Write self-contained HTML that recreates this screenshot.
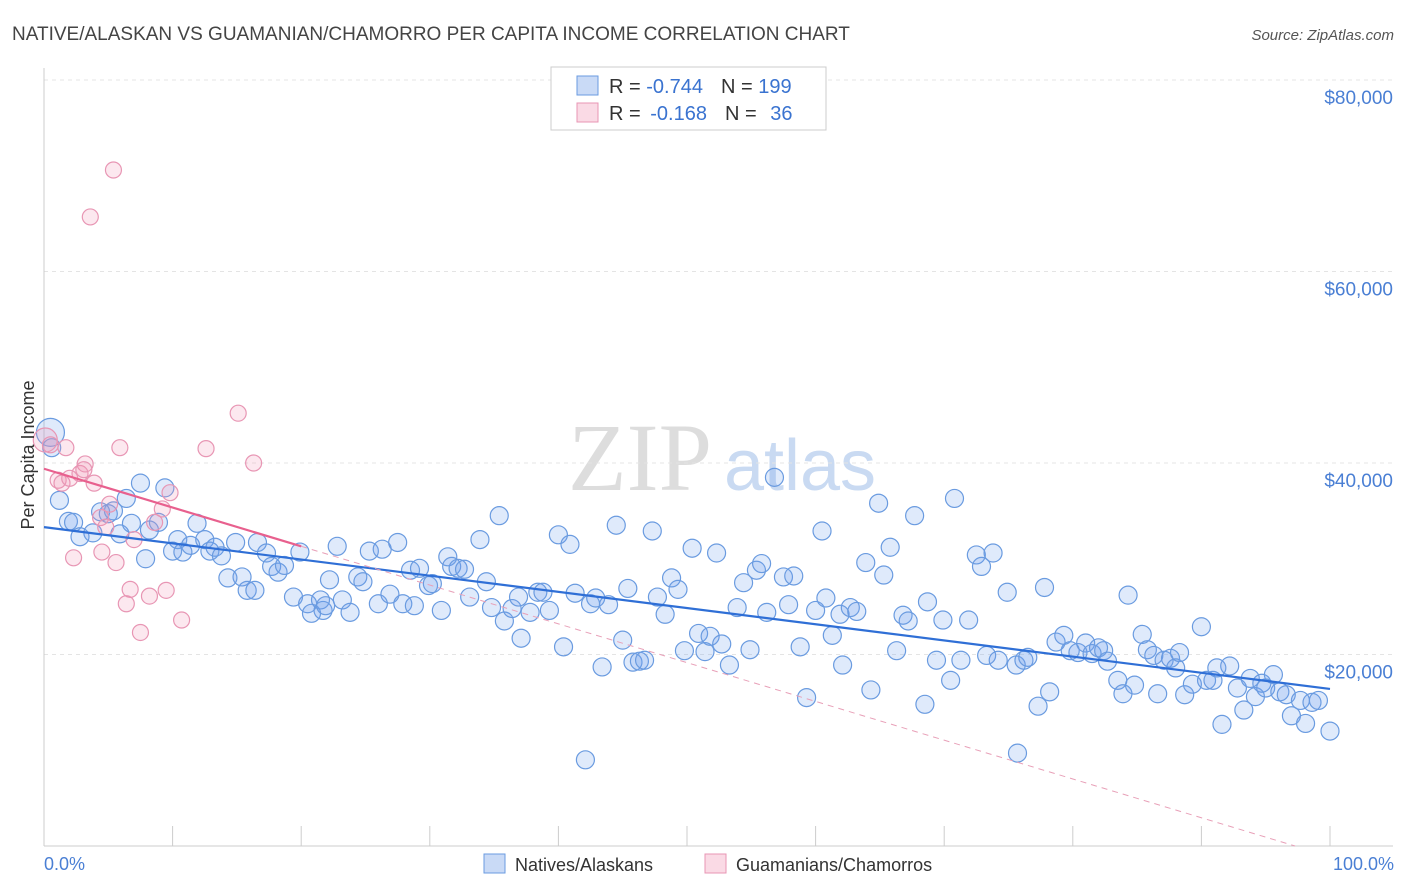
<!DOCTYPE html>
<html><head><meta charset="utf-8">
<style>
body{margin:0;background:#fff;font-family:"Liberation Sans",sans-serif;}
#wrap{position:relative;width:1406px;height:892px;overflow:hidden;}
</style></head>
<body>
<div id="wrap">
<svg id="chart" width="1406" height="892" xmlns="http://www.w3.org/2000/svg">
<text x="12" y="40" font-size="19" fill="#444">NATIVE/ALASKAN VS GUAMANIAN/CHAMORRO PER CAPITA INCOME CORRELATION CHART</text>
<text x="1394" y="40" font-size="15" fill="#555" font-style="italic" text-anchor="end">Source: ZipAtlas.com</text>
<text x="640" y="490" font-size="96" fill="#ddd" font-family="Liberation Serif,serif" text-anchor="middle">ZIP</text>
<text x="800" y="490" font-size="72" fill="#c9daf2" text-anchor="middle">atlas</text>
<g id="grid"></g>
<g id="axes"></g>
<g id="marks"></g>
<text transform="translate(34,455) rotate(-90)" font-size="18" fill="#333" text-anchor="middle">Per Capita Income</text>
<text x="44" y="870" font-size="18" fill="#4a7fd4">0.0%</text>
<text x="1394" y="870" font-size="18" fill="#4a7fd4" text-anchor="end">100.0%</text>
<g>
<rect x="551" y="67" width="275" height="63" fill="#fff" stroke="#ccc"/>
<rect x="577" y="76" width="21" height="19" fill="rgba(100,150,230,0.35)" stroke="#6a9be0"/>
<rect x="577" y="103" width="21" height="19" fill="rgba(240,150,180,0.35)" stroke="#e896b4"/>
<text x="609" y="93" font-size="20" fill="#333">R = <tspan fill="#3a73d0">-0.744</tspan><tspan dx="18">N = </tspan><tspan fill="#3a73d0">199</tspan></text>
<text x="609" y="120" font-size="20" fill="#333">R = <tspan fill="#3a73d0" dx="4">-0.168</tspan><tspan dx="18">N = </tspan><tspan fill="#3a73d0" dx="8">36</tspan></text>
</g>
<g>
<rect x="484" y="854" width="21" height="19" fill="rgba(100,150,230,0.35)" stroke="#6a9be0"/>
<text x="515" y="871" font-size="18" fill="#333">Natives/Alaskans</text>
<rect x="705" y="854" width="21" height="19" fill="rgba(240,150,180,0.35)" stroke="#e896b4"/>
<text x="736" y="871" font-size="18" fill="#333">Guamanians/Chamorros</text>
</g>
</svg>
</div>
<script>
const yTicks=[20,40,60,80];
const yTickLabels=["$20,000","$40,000","$60,000","$80,000"];
const xTicks=[0,10,20,30,40,50,60,70,80,90,100];
const blueX=[0.5,0.6,1.2,1.9,2.3,2.8,3.8,4.4,5.0,5.4,5.9,6.4,6.8,7.5,7.9,8.2,8.9,9.4,10.0,10.4,10.8,11.4,11.9,12.5,12.9,13.3,13.8,14.3,14.9,15.4,15.8,16.4,16.6,17.3,17.7,18.2,18.7,19.4,19.9,20.5,20.8,21.5,21.7,21.9,22.8,22.2,23.2,23.8,24.4,24.8,25.3,26.0,26.3,26.9,27.5,27.9,28.5,28.8,29.2,29.9,30.2,30.9,31.4,31.7,32.2,32.7,33.1,33.9,34.4,34.8,35.4,35.8,36.4,36.9,37.1,37.8,38.4,38.8,39.3,40.0,40.4,40.9,41.3,42.5,42.9,43.4,43.9,44.5,45.0,45.4,45.8,46.3,46.7,47.3,47.7,48.3,48.8,49.3,49.8,50.4,50.9,51.4,51.8,52.3,52.7,53.3,53.9,54.4,54.9,55.4,55.8,56.2,56.8,57.5,57.9,58.3,58.8,59.3,60.0,60.5,60.8,61.3,61.9,62.1,62.7,63.2,63.9,64.3,64.9,65.3,65.8,66.3,66.8,67.2,67.7,68.5,68.7,69.4,69.9,70.5,70.8,71.3,71.9,72.5,72.9,73.3,73.8,74.2,74.9,75.6,75.7,76.2,76.5,77.3,77.8,78.2,78.7,79.3,79.8,80.4,81.0,81.5,82.0,82.4,82.7,83.5,83.9,84.3,84.8,85.4,85.8,86.3,86.6,87.1,87.6,88.0,88.3,88.7,89.3,90.0,90.4,90.9,91.2,91.6,92.2,92.8,93.3,93.8,94.2,94.7,95.0,95.6,96.1,96.6,97.0,97.7,98.1,98.6,99.1,100.0,42.1];
const blueY=[43.2,41.6,36.1,33.9,33.8,32.3,32.7,34.9,34.7,35.0,32.6,36.3,33.7,37.9,30.0,33.0,33.8,37.4,30.8,32.0,30.7,31.4,33.7,32.0,30.8,31.2,30.3,28.0,31.7,28.1,26.7,26.7,31.7,30.6,29.2,28.6,29.3,26.0,30.7,25.3,24.3,25.7,24.6,25.1,31.3,27.8,25.7,24.4,28.1,27.6,30.8,25.3,31.0,26.3,31.7,25.3,28.8,25.1,29.0,27.2,27.4,24.6,30.2,29.2,29.0,28.9,26.0,32.0,27.6,24.9,34.5,23.5,24.8,26.0,21.7,24.4,26.5,26.5,24.6,32.5,20.8,31.5,26.4,25.3,25.9,18.7,25.2,33.5,21.5,26.9,19.2,19.3,19.4,32.9,26.0,24.2,28.0,26.8,20.4,31.1,22.2,20.3,21.9,30.6,21.1,18.9,24.9,27.5,20.5,28.8,29.5,24.4,38.5,28.1,25.2,28.2,20.8,15.5,24.6,32.9,25.9,22.0,24.2,18.9,24.9,24.5,29.6,16.3,35.8,28.3,31.2,20.4,24.1,23.5,34.5,14.8,25.5,19.4,23.6,17.3,36.3,19.4,23.6,30.4,29.2,19.9,30.6,19.4,26.5,18.9,9.7,19.4,19.7,14.6,27.0,16.1,21.3,22.0,20.4,20.2,21.2,20.1,20.7,20.4,19.3,17.3,15.9,26.2,16.8,22.1,20.5,19.9,15.9,19.4,19.6,18.6,20.2,15.8,16.9,22.9,17.3,17.3,18.6,12.7,18.8,16.5,14.2,17.5,15.6,17.0,16.5,17.9,16.1,15.8,13.6,15.2,12.8,15.0,15.2,12.0,9.0];
const pinkX=[0.1,0.5,1.1,1.4,1.7,2.0,2.3,2.8,3.2,3.6,3.9,4.4,4.5,4.8,5.1,5.4,5.6,5.9,6.4,6.7,7.0,7.5,8.2,8.6,9.2,9.5,9.8,10.7,12.6,15.1,16.3,3.1];
const pinkY=[42.4,41.9,38.2,37.9,41.6,38.4,30.1,38.9,39.9,65.7,37.9,34.3,30.7,33.3,35.7,70.6,29.6,41.6,25.3,26.8,32.0,22.3,26.1,33.8,35.2,26.7,36.9,23.6,41.5,45.2,40.0,39.3];
const blueFit=[33.3,-0.169];
const pinkFit=[39.4,-0.405];

const NS="http://www.w3.org/2000/svg";
const X0=44,X1=1330,Y0=846,YPER=9.575;
function sx(v){return X0+(X1-X0)*v/100;}
function sy(v){return Y0-v*YPER;}
function mk(tag,attrs,parent){const e=document.createElementNS(NS,tag);for(const k in attrs)e.setAttribute(k,attrs[k]);parent.appendChild(e);return e;}
const grid=document.getElementById('grid'),axes=document.getElementById('axes'),marks=document.getElementById('marks');
yTicks.forEach((t,i)=>{
  const l=mk('line',{x1:X0,x2:1393,y1:sy(t),y2:sy(t),stroke:'#e4e4e4','stroke-dasharray':'4,4'},grid);
  
  
  const tx=mk('text',{x:1393,y:sy(t)+24,'font-size':19,fill:'#4a7fd4','text-anchor':'end'},axes);
  tx.textContent=yTickLabels[i];
  
  
});
const tl=mk('line',{x1:X0,x2:1393,y1:80,y2:80,stroke:'#e4e4e4','stroke-dasharray':'4,4'},grid);


const ya=mk('line',{x1:X0,x2:X0,y1:68,y2:Y0,stroke:'#ccc'},axes);


const xa=mk('line',{x1:X0,x2:1393,y1:Y0,y2:Y0,stroke:'#ccc'},axes);


xTicks.forEach(t=>{
  const l=mk('line',{x1:sx(t),x2:sx(t),y1:826,y2:Y0,stroke:'#ccc'},axes);
  
  
});
blueX.forEach((x,i)=>{
  const c=mk('circle',{cx:sx(x),cy:sy(blueY[i]),r:i===0?14:9,fill:'rgba(110,160,235,0.22)',stroke:'#6a9be0','stroke-width':1.2},marks);
  
  
});
pinkX.forEach((x,i)=>{
  const c=mk('circle',{cx:sx(x),cy:sy(pinkY[i]),r:i===0?12:8,fill:'rgba(240,150,180,0.22)',stroke:'#e896b4','stroke-width':1.2},marks);
  
  
});
const bl=mk('line',{x1:sx(0),y1:sy(blueFit[0]),x2:sx(100),y2:sy(blueFit[0]+blueFit[1]*100),stroke:'#2f6fd6','stroke-width':2.2},marks);


const pEnd=-pinkFit[0]/pinkFit[1];
const pd=mk('line',{x1:sx(20),y1:sy(pinkFit[0]+pinkFit[1]*20),x2:sx(pEnd),y2:sy(0),stroke:'#e8a0b8','stroke-width':1,'stroke-dasharray':'6,5'},marks);


const pl=mk('line',{x1:sx(0),y1:sy(pinkFit[0]),x2:sx(20),y2:sy(pinkFit[0]+pinkFit[1]*20),stroke:'#e8608e','stroke-width':2.2},marks);


</script>
</body></html>
